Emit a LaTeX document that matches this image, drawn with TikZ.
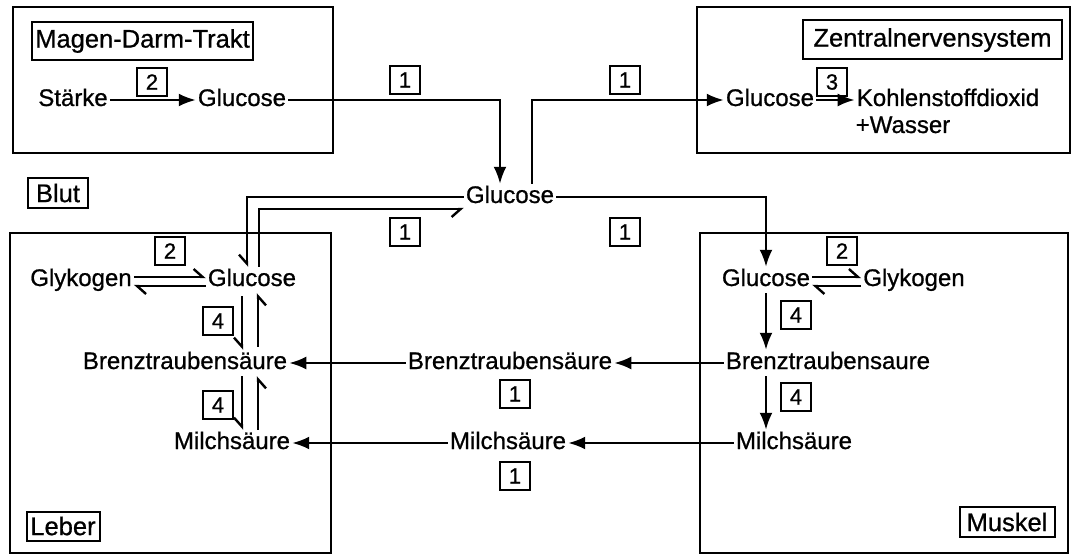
\documentclass[tikz,border=0pt]{standalone}
\usepackage{fontspec}
\setmainfont{Liberation Sans}[FakeBold=0.8]
\usetikzlibrary{arrows.meta}
\begin{document}
\begin{tikzpicture}[x=1pt,y=-1pt,
  txt/.style={font=\fontsize{24}{28}\selectfont, inner sep=2pt, text height=17pt, text depth=5pt},
  region/.style={draw, line width=2pt, inner sep=0},
  tag/.style={draw, line width=2pt, inner sep=2pt, font=\fontsize{25.5}{28}\selectfont},
  num/.style={draw, line width=2pt, minimum width=30pt, minimum height=28pt, inner sep=0, font=\fontsize{22}{24}\selectfont},
  flow/.style={line width=2.4pt, -{Latex[length=17pt,width=13pt]}},
  harps/.style={line width=2.4pt, -{Straight Barb[harpoon,swap,length=9pt,width=16pt,line width=2.4pt]}},
  harp/.style={line width=2.4pt, -{Straight Barb[harpoon,length=9pt,width=16pt,line width=2.4pt]}},
]
\useasboundingbox (0,0) rectangle (1073,556);
% regions
\node[region, minimum width=320pt, minimum height=146pt] (mdt) at (173,80) {};
\node[region, minimum width=373pt, minimum height=146pt] (zns) at (883.5,80) {};
\node[region, minimum width=321pt, minimum height=320pt] (leber) at (170.5,393) {};
\node[region, minimum width=368pt, minimum height=320pt] (muskel) at (884,393) {};
% tags
\node[tag, minimum width=221pt, minimum height=38pt] (tmdt) at (142.5,41) {Magen-Darm-Trakt};
\node[tag, minimum width=259pt, minimum height=39pt] (tzns) at (932.5,40) {Zentralnervensystem};
\node[tag, minimum width=60pt, minimum height=30pt] (tblut) at (58,193) {Blut};
\node[tag, minimum width=73pt, minimum height=29pt] (tleber) at (63,526) {Leber};
\node[tag, minimum width=95pt, minimum height=30pt] (tmuskel) at (1007,522) {Muskel};
% numbers
\node[num] (n2a) at (152,82) {2};
\node[num] (n1a) at (405,80) {1};
\node[num] (n1b) at (625,80) {1};
\node[num] (n3) at (832,82) {3};
\node[num] (n1c) at (405,232) {1};
\node[num] (n1d) at (625,232) {1};
\node[num] (n2b) at (170,251) {2};
\node[num] (n4a) at (218,321) {4};
\node[num] (n4b) at (218,405) {4};
\node[num] (n2c) at (842,251) {2};
\node[num] (n4c) at (796,315) {4};
\node[num] (n4d) at (796,397) {4};
\node[num] (n1e) at (515,394) {1};
\node[num] (n1f) at (515,476) {1};
% texts
\node[txt] (st) at (73,100) {Stärke};
\node[txt] (gM) at (242,100) {Glucose};
\node[txt] (gB) at (510,197) {Glucose};
\node[txt] (gZ) at (770,100) {Glucose};
\node[txt] (co2) at (948,100) {Kohlenstoffdioxid};
\node[txt] (wa) at (903,127) {+Wasser};
\node[txt] (glyL) at (81,280) {Glykogen};
\node[txt] (gL) at (252,280) {Glucose};
\node[txt] (bL) at (185,363) {Brenztraubensäure};
\node[txt] (mL) at (232,443) {Milchsäure};
\node[txt] (bMid) at (510,363) {Brenztraubensäure};
\node[txt] (mMid) at (508,443) {Milchsäure};
\node[txt] (gMu) at (766,280) {Glucose};
\node[txt] (glyMu) at (914,280) {Glykogen};
\node[txt] (bMu) at (828,363) {Brenztraubensaure};
\node[txt] (mMu) at (794,443) {Milchsäure};
% connectors
\draw[flow] (st) -- (gM);
\draw[flow] (gM.east) -| ([xshift=-10pt]gB.north);
\draw[flow] ([xshift=22pt]gB.north) |- (gZ.west);
\draw[flow] (gZ) -- (co2);
\draw[flow] (gB.east) -| (gMu.north);
\draw[harps] (gB.west) -| ([xshift=-5pt]gL.north);
\draw[harps] ([xshift=7pt]gL.north) |- ([yshift=-12pt]gB.west);
% Leber
\draw[harp] ([yshift=3pt]glyL.east) -- ([yshift=3pt]gL.west);
\draw[harp] ([yshift=-6pt]gL.west) -- ([yshift=-6pt]glyL.east);
\draw[harps, shorten <=3pt] ([xshift=-10pt]gL.south) -- ([xshift=57pt]bL.north);
\draw[harps, shorten <=3pt] ([xshift=73pt]bL.north) -- ([xshift=6pt]gL.south);
\draw[harps] ([xshift=57pt]bL.south) -- ([xshift=10pt]mL.north);
\draw[harps] ([xshift=26pt]mL.north) -- ([xshift=73pt]bL.south);
% transport
\draw[flow] (bMid) -- (bL);
\draw[flow] (mMid) -- (mL);
\draw[flow] (bMu) -- (bMid);
\draw[flow] (mMu) -- (mMid);
% Muskel
\draw[harp] ([yshift=3pt]gMu.east) -- ([yshift=3pt]glyMu.west);
\draw[harp] ([yshift=-6pt]glyMu.west) -- ([yshift=-6pt]gMu.east);
\draw[flow] (gMu.south) -- (gMu.south |- bMu.north);
\draw[flow] (gMu.south |- bMu.south) -- (gMu.south |- mMu.north);
\end{tikzpicture}
\end{document}
